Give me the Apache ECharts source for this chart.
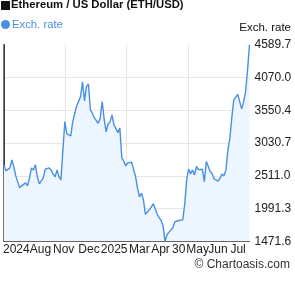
<!DOCTYPE html>
<html>
<head>
<meta charset="utf-8">
<script src="https://cdn.jsdelivr.net/npm/echarts@6/dist/echarts.min.js"></script>
<style>html,body{margin:0;padding:0;background:#fff}#c{width:295px;height:288px}</style>
</head>
<body>
<div id="c"></div>
<script>
var rates = [2684,2589,2620,2636,2763,2657,2509,2536,2319,2351,
2351,2398,2351,2478,2636,2604,2684,2494,2383,2398,
2478,2616,2620,2636,2604,2541,2494,2604,2494,2446,
2921,3370,3175,3159,3143,3370,3381,3618,3634,3766,
3999,3698,3924,3967,3555,3503,3428,3413,3344,3428,
3687,3413,3207,3333,3365,3476,3317,3259,3195,3270,
2790,2742,2668,2715,2720,2726,2720,2498,2315,2177,
2235,2129,1898,1887,1971,1971,2066,1987,1899,1884,
1801,1717,1471.64,1575,1617,1590,1686,1781,1785,1801,
1828,1812,2050,2446,2620,2538,2604,2525,2658,2609,
2620,2614,2419,2738,2731,2578,2541,2462,2438,2427,
2473,2541,2509,2604,2921,3107,3436,3714,3698,3802,
3788,3571,3682,3840,4189,4589.72];
var xLabels = ['2024','Aug','Nov','Dec','2025','Mar','Apr','30','May','Jun','Jul'];
var xLabelPos = [6.3,18.6,30.4,43.3,56.1,68.9,79.7,89,98.6,108.9,119.2];
var yMin = 1471.64, yMax = 4589.72, yStep = 519.68;

var chart = echarts.init(document.getElementById('c'), null, {renderer:'canvas'});
var font = 'Liberation Sans, Arial, sans-serif';
var blue = '#4a90e2';
chart.setOption({
  animation:false,
  textStyle:{fontFamily:font},
  title:{text:'Ethereum / US Dollar (ETH/USD)', left:11, top:-1, padding:0,
    textStyle:{fontFamily:font, fontSize:11.3, fontWeight:'bold', color:'#111', lineHeight:12}},
  legend:{left:1, top:19, padding:0, itemWidth:9, itemHeight:9, icon:'circle',
    data:[{name:'Exch. rate', itemStyle:{color:blue}}],
    textStyle:{fontFamily:font, fontSize:11.3, color:blue, padding:[0,0,0,-3]}},
  graphic:[
    {type:'rect', left:1, top:1, shape:{width:9, height:9}, style:{fill:'#111'}},
    {type:'text', right:4, top:22, style:{text:'Exch. rate', font:'11.5px '+font, fill:'#111'}},
    {type:'text', right:5, top:259, style:{text:'\u00a9 Chartoasis.com', font:'12px '+font, fill:'#333'}}
  ],
  grid:{left:1, right:45.5, top:44.7, bottom:46.7, containLabel:false},
  xAxis:{type:'value', min:0, max:rates.length-1, interval:(rates.length-1)/4,
    axisLine:{show:true, onZero:false, lineStyle:{color:'#333', width:1}},
    axisTick:{show:false},
    splitLine:{show:true, showMinLine:false, showMaxLine:false, lineStyle:{color:'#e6e6e6', width:1}},
    axisLabel:{customValues:xLabelPos, margin:2, fontSize:12, color:'#222', fontFamily:font,
      formatter:function(v){var i=xLabelPos.indexOf(v); return i>=0?xLabels[i]:'';}}
  },
  yAxis:[{type:'value', position:'right', min:yMin, max:yMax, interval:yStep,
    axisLine:{show:true, lineStyle:{color:'#333', width:1}},
    axisTick:{show:false},
    splitLine:{show:true, showMinLine:false, showMaxLine:false, lineStyle:{color:'#e6e6e6', width:1}},
    axisLabel:{margin:5, fontSize:12, color:'#222', fontFamily:font,
      formatter:function(v){return v.toFixed(1);}}
  },{type:'value', position:'left', min:yMin, max:yMax, interval:yStep,
    axisLine:{show:true, lineStyle:{color:'#444', width:1.5}},
    axisTick:{show:false}, axisLabel:{show:false}, splitLine:{show:false}}],
  series:[{name:'Exch. rate', type:'line', yAxisIndex:0,
    data:rates.map(function(v,i){return [i,v];}),
    symbol:'none', lineStyle:{color:blue, width:1.4},
    itemStyle:{color:blue},
    areaStyle:{color:'#edf5fe', opacity:1}}]
});
</script>
</body>
</html>
